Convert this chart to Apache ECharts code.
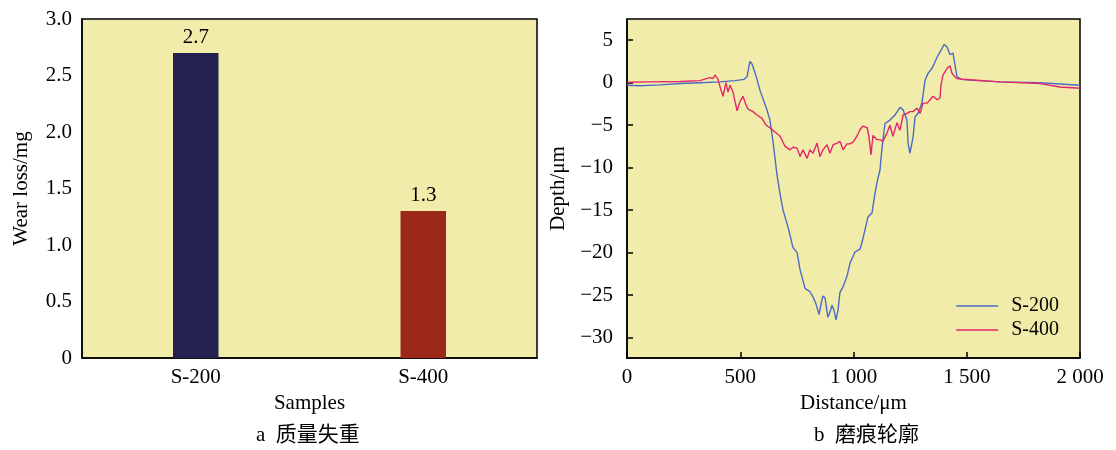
<!DOCTYPE html>
<html>
<head>
<meta charset="utf-8">
<script src="https://cdn.jsdelivr.net/npm/echarts@6/dist/echarts.min.js"></script>
<style>
  html, body { margin: 0; padding: 0; background: #ffffff; }
  #main { width: 1116px; height: 450px; }
</style>
</head>
<body>
<div id="main"></div>
<script>
// panel a: wear loss per sample
const samples = ['S-200', 'S-400'];
const wearLoss = [2.7, 1.3];
const wearTicks = [0, 0.5, 1.0, 1.5, 2.0, 2.5, 3.0];

// panel b: wear track profiles (distance in um, depth in um)
const s200Dist = [0, 57, 146, 234, 322, 411, 477, 517, 530, 539, 543, 552, 570, 587, 605, 618, 631, 645, 662,
  675, 689, 711, 733, 751, 764, 786, 808, 821, 834, 848, 857, 865, 874, 887, 896, 905, 914, 923, 932,
  940, 954, 971, 985, 1007, 1029, 1042, 1064, 1082, 1095, 1108, 1117, 1121, 1130, 1139, 1161, 1183,
  1205, 1219, 1236, 1241, 1249, 1263, 1272, 1285, 1302, 1316, 1329, 1347, 1369, 1382, 1400, 1413,
  1426, 1439, 1448, 1457, 1479, 1514, 1647, 1823, 1912, 2000];
const s200Depth = [-0.3, -0.35, -0.25, -0.1, 0.0, 0.1, 0.25, 0.4, 0.7, 2.0, 2.5, 2.2, 0.8, -0.9, -2.2, -3.2, -4.4, -7.0, -10.8,
  -13, -15, -17, -19.4, -20, -22, -24.2, -24.6, -25.2, -26, -27.3, -26, -25.1, -25.3, -27.6, -27, -26.2, -26.8, -27.9, -26.7,
  -24.7, -24, -22.8, -21.2, -19.9, -19.6, -18.3, -15.8, -15.3, -13, -11.2, -10.3, -9, -6.7, -4.8, -4.4, -3.8,
  -2.9, -3.2, -4.4, -7.1, -8.3, -6.4, -4, -3.6, -2.4, 0.3, 1.1, 1.7, 3.0, 3.6, 4.5, 4.2,
  3.3, 3.5, 2.1, 0.7, 0.4, 0.3, 0.1, 0.0, -0.15, -0.3];

const s400Dist = [0, 102, 234, 322, 366, 380, 389, 402, 411, 424, 437, 446, 455, 468, 486, 499, 512, 525, 534,
  556, 574, 596, 614, 631, 653, 676, 698, 720, 733, 751, 764, 777, 795, 808, 821, 839, 852, 865, 883,
  896, 910, 927, 940, 954, 971, 985, 998, 1015, 1029, 1042, 1060, 1068, 1077, 1086, 1104, 1117, 1130,
  1148, 1161, 1174, 1192, 1205, 1219, 1236, 1249, 1263, 1280, 1294, 1307, 1325, 1338, 1351, 1369,
  1382, 1386, 1395, 1413, 1426, 1435, 1439, 1448, 1457, 1483, 1647, 1823, 1912, 2000];
const s400Depth = [0.05, 0.1, 0.15, 0.25, 0.6, 0.5, 0.9, 0.4, -0.5, -1.6, 0.0, -1.1, -0.3, -1.1, -3.3, -2.2, -1.6, -2.6, -3.1,
  -3.4, -3.8, -4.2, -5, -5.3, -5.8, -6.3, -7.5, -7.9, -7.6, -7.7, -8.7, -7.9, -8.9, -7.9, -8.3, -7.1, -8.7, -7.9, -7.3,
  -8.3, -7.3, -7.1, -6.9, -7.9, -7.2, -7.2, -7.0, -6.3, -5.5, -5.1, -5.3, -6.3, -8.5, -6.2, -6.7, -6.7, -6.9,
  -5.9, -5.0, -6.3, -4.7, -5.6, -3.8, -3.6, -3.4, -3.4, -3.0, -3.6, -2.4, -2.4, -2.0, -1.6, -2.0,
  -1.8, -0.3, 0.9, 1.7, 2.0, 1.1, 1.3, 0.7, 0.5, 0.4, 0.1, -0.1, -0.5, -0.65];

const depthTicks = [-30, -25, -20, -15, -10, -5, 0, 5];

const TH = {
  FG_COLOR: '#000000',
  BG_COLOR: '#F2ECAA',
  BAR_COLORS: ['#252252', '#9B2819'],
  S200_COLOR: '#4A6CC4',
  S400_COLOR: '#E4266A',
  FONT: '"Liberation Serif", "Times New Roman", "Noto Sans CJK SC", serif',
};

const FS = 21;

const pairs = (xs, ys) => xs.map((x, i) => [x, ys[i]]);
const minus = (v) => String(v).replace('-', '\u2212');
const spaced = (v) => (v >= 1000 ? String(v).replace(/(\d)(\d{3})$/, '$1 $2') : String(v));

const textStyle = { color: TH.FG_COLOR, fontFamily: TH.FONT, fontSize: FS };
const axisLine = { show: true, onZero: false, lineStyle: { color: TH.FG_COLOR, width: 1.5 } };
const inTick = { inside: true, length: 6, lineStyle: { color: TH.FG_COLOR, width: 1.5 } };

const chart = echarts.init(document.getElementById('main'), null, { renderer: 'canvas' });

const option = {
  animation: false,
  textStyle: { fontFamily: TH.FONT },
  grid: [
    {
      left: 82, width: 455, top: 19, height: 339,
      show: true, backgroundColor: TH.BG_COLOR, borderColor: TH.FG_COLOR, borderWidth: 1.5,
      containLabel: false, outerBoundsMode: 'none',
    },
    {
      left: 627, width: 453, top: 19, height: 339,
      show: true, backgroundColor: TH.BG_COLOR, borderColor: TH.FG_COLOR, borderWidth: 1.5,
      containLabel: false, outerBoundsMode: 'none',
    },
  ],
  xAxis: [
    {
      type: 'category',
      gridIndex: 0,
      data: samples,
      name: 'Samples',
      nameLocation: 'middle',
      nameGap: 33,
      nameTextStyle: textStyle,
      axisLine: axisLine,
      axisTick: { show: false },
      axisLabel: { ...textStyle, margin: 9 },
    },
    {
      type: 'value',
      gridIndex: 1,
      min: 0,
      max: 2000,
      interval: 500,
      name: 'Distance/\u03bcm',
      nameLocation: 'middle',
      nameGap: 33,
      nameTextStyle: textStyle,
      splitLine: { show: false },
      axisLine: axisLine,
      axisTick: inTick,
      axisLabel: { ...textStyle, margin: 9, showMinLabel: true, showMaxLabel: true, formatter: spaced },
    },
  ],
  yAxis: [
    {
      type: 'value',
      gridIndex: 0,
      min: 0,
      max: 3,
      interval: 0.5,
      name: 'Wear loss/mg',
      nameLocation: 'middle',
      nameGap: 50,
      nameTextStyle: textStyle,
      splitLine: { show: false },
      axisLine: axisLine,
      axisTick: inTick,
      axisLabel: {
        ...textStyle,
        margin: 10,
        customValues: wearTicks,
        formatter: (v) => (v === 0 ? '0' : v.toFixed(1)),
      },
    },
    {
      type: 'value',
      gridIndex: 1,
      min: -32.4,
      max: 7.5,
      name: 'Depth/\u03bcm',
      nameLocation: 'middle',
      nameGap: 58,
      nameTextStyle: textStyle,
      splitLine: { show: false },
      axisLine: axisLine,
      axisTick: { ...inTick, customValues: depthTicks },
      axisLabel: { ...textStyle, margin: 14, customValues: depthTicks, formatter: minus },
    },
  ],
  legend: {
    orient: 'vertical',
    right: 52,
    top: 291,
    itemWidth: 42,
    itemHeight: 1.5,
    itemGap: 4,
    icon: 'rect',
    textStyle: { ...textStyle, fontSize: 20, padding: [0, 0, 0, 8] },
    data: ['S-200', 'S-400'],
  },
  graphic: [
    {
      type: 'text', top: 425, left: 256,
      style: { text: 'a  质量失重', font: FS + 'px ' + TH.FONT, fill: TH.FG_COLOR },
    },
    {
      type: 'text', top: 425, left: 814,
      style: { text: 'b  磨痕轮廓', font: FS + 'px ' + TH.FONT, fill: TH.FG_COLOR },
    },
  ],
  series: [
    {
      type: 'bar',
      xAxisIndex: 0,
      yAxisIndex: 0,
      barWidth: '20%',
      data: wearLoss.map((v, i) => ({ value: v, itemStyle: { color: TH.BAR_COLORS[i] } })),
      label: { show: true, position: 'top', distance: 5, ...textStyle },
    },
    {
      name: 'S-200',
      type: 'line',
      xAxisIndex: 1,
      yAxisIndex: 1,
      symbol: 'none',
      color: TH.S200_COLOR,
      lineStyle: { color: TH.S200_COLOR, width: 1.4 },
      data: pairs(s200Dist, s200Depth),
    },
    {
      name: 'S-400',
      type: 'line',
      xAxisIndex: 1,
      yAxisIndex: 1,
      symbol: 'none',
      color: TH.S400_COLOR,
      lineStyle: { color: TH.S400_COLOR, width: 1.4 },
      data: pairs(s400Dist, s400Depth),
    },
  ],
};

chart.setOption(option);
</script>
</body>
</html>
